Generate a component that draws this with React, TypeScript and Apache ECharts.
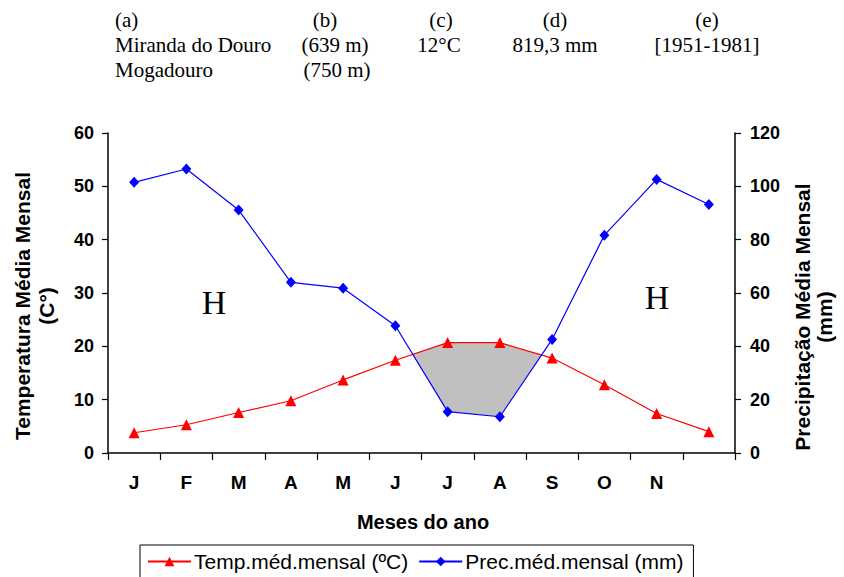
import React, { useEffect, useRef } from "react";
import * as echarts from "echarts";

const months = ["J", "F", "M", "A", "M", "J", "J", "A", "S", "O", "N", ""];
const tempValues = [3.8, 5.3, 7.6, 9.8, 13.7, 17.4, 20.7, 20.7, 17.8, 12.8, 7.4, 4.0];
const precValues = [101.5, 106.5, 91.1, 64.0, 61.8, 47.7, 15.5, 13.6, 42.6, 81.7, 102.6, 93.2];
const tempName = "Temp.méd.mensal (ºC)";
const precName = "Prec.méd.mensal (mm)";
const tempMax = 60;
const precMax = 120;

const SERIF = "'Liberation Serif', 'Times New Roman', serif";
const SANS = "'Liberation Sans', Arial, sans-serif";

export default function App() {
  const ref = useRef<HTMLDivElement>(null);
  useEffect(() => {
    document.body.style.margin = "0";
    const chart = echarts.init(ref.current!, undefined, { renderer: "svg" });
    const ratio = tempMax / precMax;

    const renderDry = (params: any, api: any) => {
      if (params.dataIndex !== 0) return;
      const n = tempValues.length;
      const pT = tempValues.map((v, i) => api.coord([i, v]));
      const pP = precValues.map((v, i) => api.coord([i, v * ratio]));
      const diff = tempValues.map((v, i) => v - precValues[i] * ratio);
      const lerp = (a: number[], b: number[], t: number) => [a[0] + (b[0] - a[0]) * t, a[1] + (b[1] - a[1]) * t];
      const polys: number[][][] = [];
      let upper: number[][] | null = null;
      let lower: number[][] = [];
      for (let i = 0; i < n; i++) {
        const d = diff[i];
        if (d > 0) {
          if (!upper) {
            upper = [];
            lower = [];
            if (i > 0) {
              const t = diff[i - 1] / (diff[i - 1] - d);
              upper.push(lerp(pT[i - 1], pT[i], t));
            }
          }
          upper.push(pT[i]);
          lower.push(pP[i]);
        } else if (upper) {
          const t = diff[i - 1] / (diff[i - 1] - d);
          upper.push(lerp(pT[i - 1], pT[i], t));
          polys.push(upper.concat(lower.slice().reverse()));
          upper = null;
        }
      }
      if (upper) polys.push(upper.concat(lower.slice().reverse()));
      return {
        type: "group",
        children: polys.map((p) => ({
          type: "polygon",
          shape: { points: p },
          style: { fill: "#c0c0c0", stroke: "none" },
        })),
      };
    };

    const headerText = (text: string, x: number, y: number, align: string) => ({
      type: "text",
      x,
      y,
      style: {
        text,
        font: `21px ${SERIF}`,
        fill: "#000",
        textAlign: align,
        textVerticalAlign: "middle",
      },
    });

    const axisLabelStyle = { color: "#000", fontFamily: SANS, fontWeight: "bold" as const };

    chart.setOption({
      animation: false,
      backgroundColor: "#fff",
      grid: { left: 108, right: 109, top: 133, bottom: 124 },
      xAxis: {
        type: "category",
        data: months,
        boundaryGap: true,
        axisLine: { lineStyle: { color: "#000", width: 1.5 } },
        axisTick: { show: true, length: 7, lineStyle: { color: "#000", width: 1.2 } },
        axisLabel: { ...axisLabelStyle, fontSize: 19, margin: 20, interval: 0 },
        splitLine: { show: false },
      },
      yAxis: [
        {
          type: "value",
          min: 0,
          max: tempMax,
          interval: 10,
          position: "left",
          axisLine: { show: true, lineStyle: { color: "#000", width: 1.5 } },
          axisTick: { show: true, length: 6, lineStyle: { color: "#000", width: 1.2 } },
          axisLabel: { ...axisLabelStyle, fontSize: 18, margin: 14 },
          splitLine: { show: false },
        },
        {
          type: "value",
          min: 0,
          max: precMax,
          interval: 20,
          position: "right",
          axisLine: { show: true, lineStyle: { color: "#000", width: 1.5 } },
          axisTick: { show: true, length: 6, lineStyle: { color: "#000", width: 1.2 } },
          axisLabel: { ...axisLabelStyle, fontSize: 18, margin: 15 },
          splitLine: { show: false },
        },
      ],
      legend: {
        data: [tempName, precName],
        left: 140,
        top: 545,
        itemWidth: 43,
        itemHeight: 12,
        itemGap: 10,
        padding: [6, 10, 8, 7],
        borderColor: "#000",
        borderWidth: 1,
        borderRadius: 0,
        backgroundColor: "#fff",
        textStyle: { fontFamily: SANS, fontSize: 21, color: "#000", padding: [0, 0, 0, -2] },
      },
      series: [
        {
          type: "custom",
          name: "dry",
          xAxisIndex: 0,
          yAxisIndex: 0,
          renderItem: renderDry,
          data: [[0, 0]],
          silent: true,
          z: 1,
        },
        {
          type: "line",
          name: tempName,
          xAxisIndex: 0,
          yAxisIndex: 0,
          data: tempValues,
          symbol: "triangle",
          symbolSize: 11,
          itemStyle: { color: "#ff0000" },
          lineStyle: { color: "#ff0000", width: 1.2 },
          z: 3,
        },
        {
          type: "line",
          name: precName,
          xAxisIndex: 0,
          yAxisIndex: 1,
          data: precValues,
          symbol: "diamond",
          symbolSize: [10, 11],
          itemStyle: { color: "#0000ff" },
          lineStyle: { color: "#0000ff", width: 1.2 },
          z: 4,
        },
      ],
      graphic: [
        headerText("(a)", 115, 20, "left"),
        headerText("(b)", 325, 20, "center"),
        headerText("(c)", 441, 20, "center"),
        headerText("(d)", 555, 20, "center"),
        headerText("(e)", 707, 20, "center"),
        headerText("Miranda do Douro", 115, 45, "left"),
        headerText("(639 m)", 335, 45, "center"),
        headerText("12°C", 439, 45, "center"),
        headerText("819,3 mm", 555, 45, "center"),
        headerText("[1951-1981]", 707, 45, "center"),
        headerText("Mogadouro", 115, 70, "left"),
        headerText("(750 m)", 337, 70, "center"),
        {
          type: "text",
          x: 34,
          y: 306,
          rotation: Math.PI / 2,
          style: {
            text: "Temperatura Média Mensal\n(C°)",
            font: `bold 21px ${SANS}`,
            lineHeight: 24,
            fill: "#000",
            textAlign: "center",
            textVerticalAlign: "middle",
          },
        },
        {
          type: "text",
          x: 813,
          y: 317,
          rotation: Math.PI / 2,
          style: {
            text: "Precipitação Média Mensal\n(mm)",
            font: `bold 21px ${SANS}`,
            lineHeight: 22,
            fill: "#000",
            textAlign: "center",
            textVerticalAlign: "middle",
          },
        },
        {
          type: "text",
          x: 423,
          y: 522,
          style: {
            text: "Meses do ano",
            font: `bold 20px ${SANS}`,
            fill: "#000",
            textAlign: "center",
            textVerticalAlign: "middle",
          },
        },
        {
          type: "text",
          x: 214,
          y: 302,
          style: { text: "H", font: `34px ${SERIF}`, fill: "#000", textAlign: "center", textVerticalAlign: "middle" },
        },
        {
          type: "text",
          x: 657,
          y: 297,
          style: { text: "H", font: `34px ${SERIF}`, fill: "#000", textAlign: "center", textVerticalAlign: "middle" },
        },
      ],
    });
    return () => chart.dispose();
  }, []);
  return <div ref={ref} style={{ position: "fixed", left: 0, top: 0, width: 844, height: 577 }} />;
}
